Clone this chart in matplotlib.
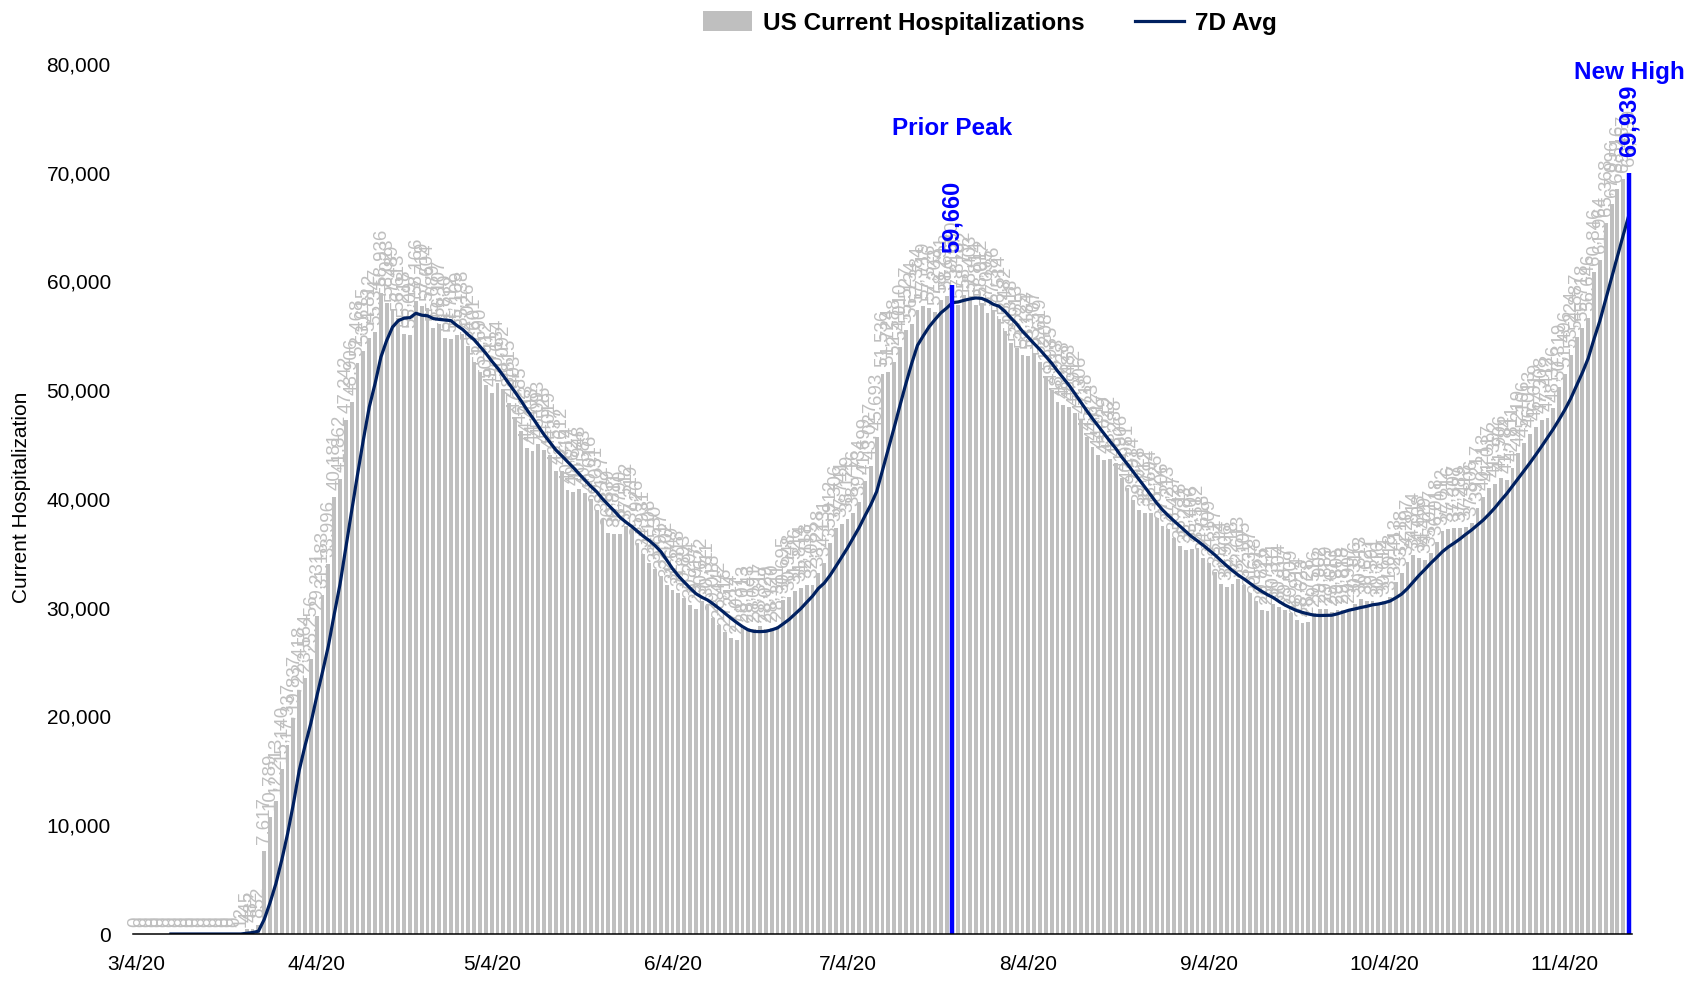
import matplotlib
matplotlib.use("Agg")
import matplotlib.pyplot as plt
import matplotlib.dates as mdates
from matplotlib import font_manager
from matplotlib.patches import Patch
from matplotlib.lines import Line2D
from matplotlib.ticker import FuncFormatter
import pandas as pd

# daily US current hospitalizations, starting 3/4/20
start_date = "2020-03-04"
hospitalized = [
    0, 0, 0, 0, 0, 0, 0, 0, 0, 0, 0, 0, 0, 0, 0, 0, 0, 0,
    12, 445, 482, 852, 7617, 10789, 12213, 15140, 17337, 19837, 22418, 23564,
    25256, 29231, 31183, 33996, 40181, 41862, 47242, 48906, 52468, 53615,
    54812, 55347, 58936, 58023, 57489, 56613, 55218, 55097, 58166, 57719,
    57604, 55689, 56107, 54830, 54712, 55109, 55138, 54026, 52601, 51690,
    50512, 49711, 50634, 50092, 48815, 47403, 46285, 44713, 44408, 45093,
    44525, 44019, 42537, 42612, 40814, 40627, 40948, 40583, 40016, 39031,
    38127, 36839, 36811, 36790, 37512, 37219, 35926, 34931, 34108, 33530,
    32917, 32102, 31649, 31318, 30893, 30294, 29917, 30622, 30311, 29018,
    28442, 27816, 27214, 27037, 28013, 28143, 28091, 28317, 28029, 28120,
    28311, 30695, 30948, 31526, 31814, 32118, 32085, 33228, 34131, 35912,
    37306, 37741, 38129, 38716, 39734, 41699, 43027, 45693, 51536, 51724,
    52588, 54010, 55527, 56134, 57384, 57719, 57526, 57203, 58291, 58623,
    59660, 57818, 58792, 58403, 57814, 58012, 57095, 57386, 56514, 55482,
    54318, 53913, 53229, 53184, 53307, 52619, 51208, 49985, 48913, 48628,
    48483, 47912, 47306, 45718, 44823, 44017, 43629, 43712, 43288, 41906,
    40981, 39914, 39028, 38712, 38694, 38226, 37506, 37213, 36427, 35718,
    35283, 35406, 35512, 34618, 34109, 33327, 32214, 31906, 32218, 32613,
    32105, 31327, 30618, 29826, 29712, 30311, 30104, 29817, 29509, 28914,
    28623, 28728, 29516, 29902, 29889, 29613, 29805, 29818, 29907, 30316,
    30813, 30627, 30591, 30316, 30614, 31018, 32413, 33218, 34207, 34814,
    34608, 34429, 35017, 36018, 37012, 37216, 37307, 37289, 37418, 37806,
    39217, 40213, 41017, 41392, 41906, 41784, 42811, 44219, 45106, 46013,
    46619, 47308, 47412, 48326, 50319, 51496, 53224, 54887, 55718, 56646,
    60846, 61964, 65368, 67096, 68516, 69457, 69939,
]
prior_peak_date = "2020-07-22"
new_high_date = "2020-11-15"

bar_color = "#BFBFBF"
avg_color = "#002060"
blue = "#0000FF"

names = {f.name for f in font_manager.fontManager.ttflist}
if "Liberation Sans Narrow" in names:
    bold_family, bold_size = "Liberation Sans Narrow", 20
else:
    bold_family, bold_size = "Liberation Sans", 17.5

plt.rcParams["font.family"] = ["Liberation Sans", "DejaVu Sans"]

dates = pd.date_range(start_date, periods=len(hospitalized), freq="D")
series = pd.Series(hospitalized, index=dates)
avg7 = series.rolling(7).mean()

fig = plt.figure(figsize=(16.95, 9.82), dpi=100)
ax = fig.add_axes([133 / 1695, 1 - 934 / 982, 1499 / 1695, 870 / 982])

ax.bar(dates, series.values, width=0.66, color=bar_color, zorder=1)
ax.plot(avg7.index, avg7.values, color=avg_color, lw=2.3, zorder=3)

# value labels on every bar
for d, v in series.items():
    ax.annotate(f"{v:,}", (d, v), xytext=(0, 5), textcoords="offset points",
                rotation=90, ha="center", va="bottom", fontsize=13.5,
                color=bar_color, zorder=2)

# prior peak / new high markers
for d, off, title, title_off in [(prior_peak_date, 23, "Prior Peak", 113),
                                 (new_high_date, 12, "New High", 73)]:
    d = pd.Timestamp(d)
    v = series[d]
    ax.vlines(d, 0, v, color=blue, lw=3.2, zorder=4)
    ax.annotate(f"{v:,}", (d, v), xytext=(0, off), textcoords="offset points",
                rotation=90, ha="center", va="bottom", color=blue,
                family=bold_family, fontweight="bold", fontsize=bold_size - 0.5,
                zorder=5)
    ax.annotate(title, (d, v), xytext=(0, title_off), textcoords="offset points",
                ha="center", va="center", color=blue, family=bold_family,
                fontweight="bold", fontsize=bold_size, zorder=5,
                annotation_clip=False)

ax.set_ylim(0, 80000)
ax.set_yticks(range(0, 80001, 10000))
ax.yaxis.set_major_formatter(FuncFormatter(lambda y, p: f"{int(y):,}"))
ax.set_xlim(dates[0] - pd.Timedelta(hours=12), dates[-1] + pd.Timedelta(hours=12))
ax.xaxis.set_major_locator(mdates.MonthLocator(bymonthday=4))
ax.xaxis.set_major_formatter(FuncFormatter(
    lambda x, p: (lambda t: f"{t.month}/{t.day}/{t:%y}")(mdates.num2date(x))))
ax.tick_params(axis="both", length=0, labelsize=15)
ax.tick_params(axis="y", pad=16)
ax.tick_params(axis="x", pad=15)

for s in ["top", "right", "left"]:
    ax.spines[s].set_visible(False)
ax.spines["bottom"].set_color("black")
ax.spines["bottom"].set_linewidth(1.1)
ax.spines["bottom"].set_zorder(6)

fig.text(22 / 1695, 1 - 497 / 982, "Current Hospitalization", rotation=90,
         ha="center", va="center", fontsize=15)

handles = [Patch(facecolor=bar_color, edgecolor="none"),
           Line2D([], [], color=avg_color, lw=2.3)]
fig.legend(handles, ["US Current Hospitalizations", "7D Avg"], loc="center",
           bbox_to_anchor=(0.584, 1 - 23 / 982), ncol=2, frameon=False,
           prop={"family": bold_family, "weight": "bold", "size": bold_size},
           handlelength=2.0, handleheight=0.9, handletextpad=0.45,
           columnspacing=2.1)

fig.savefig("out.png", dpi=100, facecolor="white")
